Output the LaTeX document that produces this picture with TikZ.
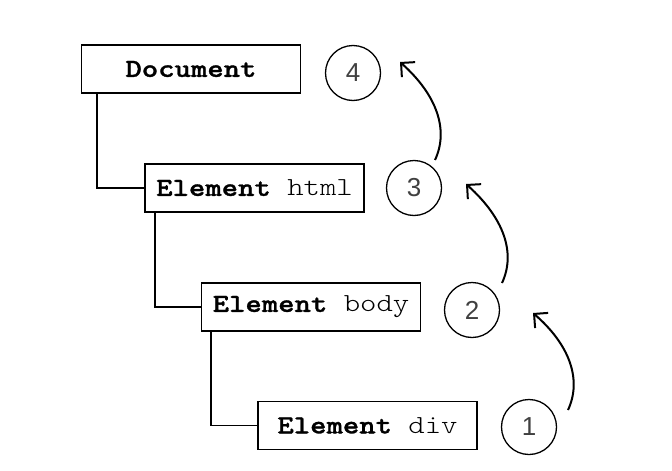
\documentclass[tikz,border=0pt]{standalone}
\usepackage{fontspec}
\newfontfamily\codebold{lmmonolt10-bold.otf}[FakeStretch=1.2, FakeBold=1.2]
\newfontfamily\codelight{Latin Modern Mono Light}[FakeStretch=1.2]
\newfontfamily\digitfont{Liberation Sans}
\usetikzlibrary{arrows.meta}
\begin{document}
\begin{tikzpicture}[x=1pt,y=-1pt,
  nodebox/.style={draw, line width=1.3pt, minimum width=219pt, minimum height=48pt,
    inner sep=0pt, font=\fontsize{26}{30}\selectfont\codelight},
  stepnum/.style={draw, circle, line width=1.3pt, minimum size=55pt, inner sep=0pt,
    font=\fontsize{26}{28}\selectfont\digitfont, text=black!75},
  treeline/.style={line width=1.6pt},
  climb/.style={line width=2pt, -{Straight Barb[length=10pt,width=20pt,line width=2pt]}}]
\useasboundingbox (0,0) rectangle (672,471);
% the tree of nodes
\node[nodebox] (doc)  at (191,69)    {{\codebold Document}};
\node[nodebox] (html) at (254.5,188) {{\codebold Element} html};
\node[nodebox] (body) at (311,307)   {{\codebold Element} body};
\node[nodebox] (div)  at (367.5,425.5) {{\codebold Element} div};
\draw[treeline] (doc.south -| 97,0) |- (html.west);
\draw[treeline] (html.south -| 155,0) |- (body.west);
\draw[treeline] (body.south -| 211,0) |- (div.west);
% numbered steps
\node[stepnum] (n4) at (353,73)  {4};
\node[stepnum] (n3) at (414,188) {3};
\node[stepnum] (n2) at (472,310) {2};
\node[stepnum] (n1) at (529,427) {1};
% bubbling arrows
\coordinate (s1) at (568,410); \coordinate (t1) at (533,313);
\coordinate (s2) at (502,283); \coordinate (t2) at (466,184);
\coordinate (s3) at (435,160); \coordinate (t3) at (400,62);
\draw[climb] (s1) .. controls (582,380) and (570,345) .. (t1);
\draw[climb] (s2) .. controls (516,253) and (504,218) .. (t2);
\draw[climb] (s3) .. controls (449,130) and (437,95) .. (t3);
\end{tikzpicture}
\end{document}
